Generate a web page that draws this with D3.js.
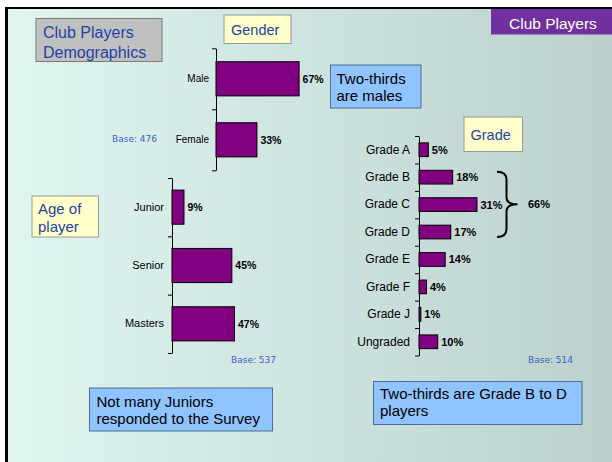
<!DOCTYPE html>
<html>
<head>
<meta charset="utf-8">
<script src="https://cdn.jsdelivr.net/npm/d3@7"></script>
<style>
  body { margin: 0; background: #fff; }
  svg { display: block; }
</style>
</head>
<body>
<svg width="612" height="462"></svg>
<script>
// data
var genderCats = ["Male", "Female"];
var genderVals = [67, 33];
var ageCats = ["Junior", "Senior", "Masters"];
var ageVals = [9, 45, 47];
var gradeCats = ["Grade A", "Grade B", "Grade C", "Grade D", "Grade E", "Grade F", "Grade J", "Ungraded"];
var gradeVals = [5, 18, 31, 17, 14, 4, 1, 10];
var gradeGroup = ["Grade B", "Grade D"];
var gradeGroupLabel = "66%";
var baseLabels = ["Base: 476", "Base: 537", "Base: 514"];

var svg = d3.select("svg");
var sans = "'Liberation Sans', Arial, sans-serif";
var tahoma = "'DejaVu Sans', Verdana, sans-serif";
var blueText = "#2443a4";

// background panel
var defs = svg.append("defs");
var grad = defs.append("linearGradient").attr("id", "bg").attr("x1", "0").attr("x2", "1").attr("y1", "0").attr("y2", "0");
grad.append("stop").attr("offset", "0").attr("stop-color", "#e0f6f1");
grad.append("stop").attr("offset", "1").attr("stop-color", "#bcd1cd");
svg.append("rect").attr("x", 6).attr("y", 8).attr("width", 606).attr("height", 454).attr("fill", "url(#bg)");
svg.append("line").attr("x1", 6.5).attr("x2", 6.5).attr("y1", 7).attr("y2", 462).attr("stroke", "#000").attr("stroke-width", 3);
svg.append("line").attr("x1", 5).attr("x2", 612).attr("y1", 8).attr("y2", 8).attr("stroke", "#000").attr("stroke-width", 2);

function textBox(x, y, w, h, fill, stroke, lines, opt) {
    svg.append("rect").attr("x", x).attr("y", y).attr("width", w).attr("height", h)
        .attr("fill", fill).attr("stroke", stroke).attr("stroke-width", opt.sw || 1);
    lines.forEach(function(t, i) {
        svg.append("text")
            .attr("x", opt.tx)
            .attr("y", opt.ty + i * (opt.lh || 0))
            .style("font-family", opt.font || sans)
            .style("font-size", opt.size + "px")
            .attr("fill", opt.color)
            .text(t);
    });
}

function barChart(cats, vals, o) {
    var y = d3.scaleBand().domain(cats).range(o.yRange).paddingInner(o.pad).paddingOuter(o.pad / 2);
    var x = d3.scaleLinear().domain([0, 100]).range([o.x0, o.x0 + o.len]);
    var g = svg.append("g");
    // boundary ticks + axis line
    var yEdge = d3.scaleLinear().domain([0, cats.length]).range(o.yRange);
    g.append("g").attr("transform", "translate(" + o.x0 + ",0)")
        .call(d3.axisLeft(yEdge).tickValues(d3.range(cats.length + 1)).tickFormat("").tickSize(4).tickSizeOuter(0))
        .call(function(a) { a.selectAll("path,line").attr("stroke", "#000"); });
    // category labels
    g.append("g").attr("transform", "translate(" + o.x0 + ",0)")
        .call(d3.axisLeft(y).tickSize(0).tickPadding(o.labelPad))
        .call(function(a) {
            a.select(".domain").remove();
            a.selectAll("text").style("font-family", sans).style("font-size", o.labelSize + "px").attr("fill", "#000");
        });
    g.selectAll("rect.bar").data(vals).enter().append("rect")
        .attr("class", "bar")
        .attr("x", o.x0)
        .attr("y", function(d, i) { return y(cats[i]); })
        .attr("width", function(d) { return x(d) - o.x0; })
        .attr("height", y.bandwidth())
        .attr("fill", "#800080")
        .attr("stroke", "#000")
        .attr("stroke-width", 1);
    g.selectAll("text.val").data(vals).enter().append("text")
        .attr("class", "val")
        .attr("x", function(d) { return x(d) + 3.5; })
        .attr("y", function(d, i) { return y(cats[i]) + y.bandwidth() / 2; })
        .attr("dy", "0.36em")
        .style("font-family", sans)
        .style("font-size", o.valSize + "px")
        .style("font-weight", "bold")
        .attr("fill", "#000")
        .text(function(d) { return d + "%"; });
    return { y: y, x: x };
}

// title and tags
textBox(36, 18.5, 126, 43, "#c0c0c0", "#7a7a7a", ["Club Players", "Demographics"],
    { tx: 43, ty: 37.5, lh: 20, size: 16, color: blueText });
svg.append("rect").attr("x", 491).attr("y", 9).attr("width", 121).attr("height", 25.5).attr("fill", "#7030a0");
svg.append("text").attr("x", 509).attr("y", 28.5).style("font-family", sans).style("font-size", "15.5px")
    .attr("fill", "#fff").text("Club Players");

// gender
textBox(224, 15, 67, 28.5, "#ffffcc", "#9a9a9a", ["Gender"], { tx: 231, ty: 35, size: 14.5, color: blueText });
barChart(genderCats, genderVals, { x0: 216, len: 124, yRange: [48.3, 170.3], pad: 0.44, labelPad: 7, labelSize: 10, valSize: 10.5 });
textBox(330.5, 65, 90.5, 43, "#8fc4ff", "#4d6f96", ["Two-thirds", "are males"],
    { tx: 336.5, ty: 83.5, lh: 17.3, size: 15, color: "#000" });
svg.append("text").attr("x", 112).attr("y", 141.5).style("font-family", tahoma).style("font-size", "9px")
    .attr("fill", "#3a62c0").text(baseLabels[0]);

// age
textBox(32, 196, 66.5, 41, "#ffffcc", "#9a9a9a", ["Age of", "player"],
    { tx: 38, ty: 213.5, lh: 18, size: 15, color: blueText });
barChart(ageCats, ageVals, { x0: 172, len: 133, yRange: [178, 353], pad: 0.415, labelPad: 8, labelSize: 11, valSize: 10.5 });
svg.append("text").attr("x", 231).attr("y", 362.5).style("font-family", tahoma).style("font-size", "9px")
    .attr("fill", "#3a62c0").text(baseLabels[1]);

// grade
textBox(464, 117, 58.5, 34.5, "#ffffcc", "#9a9a9a", ["Grade"], { tx: 470.5, ty: 140, size: 14.5, color: blueText });
var gs = barChart(gradeCats, gradeVals, { x0: 419, len: 187, yRange: [136, 355.5], pad: 0.5, labelPad: 9, labelSize: 12, valSize: 11 });
svg.append("text").attr("x", 528).attr("y", 362.5).style("font-family", tahoma).style("font-size", "9px")
    .attr("fill", "#3a62c0").text(baseLabels[2]);

// brace around grades B to D
var bTop = gs.y(gradeGroup[0]) + 1.5;
var bBot = gs.y(gradeGroup[1]) + gs.y.bandwidth() - 2;
var bMid = (bTop + bBot) / 2;
var bx = 497, bv = 506.5, tip = 517.5;
var brace = d3.path();
brace.moveTo(bx, bTop);
brace.quadraticCurveTo(bv, bTop, bv, bTop + 8);
brace.lineTo(bv, bMid - 7);
brace.quadraticCurveTo(bv, bMid, tip, bMid);
brace.quadraticCurveTo(bv, bMid, bv, bMid + 7);
brace.lineTo(bv, bBot - 8);
brace.quadraticCurveTo(bv, bBot, bx, bBot);
svg.append("path").attr("d", brace.toString()).attr("fill", "none").attr("stroke", "#000").attr("stroke-width", 2);
svg.append("text").attr("x", 528).attr("y", bMid).attr("dy", "0.36em")
    .style("font-family", sans).style("font-size", "11px").style("font-weight", "bold").text(gradeGroupLabel);

// notes
textBox(89.5, 388, 183, 43, "#8fc4ff", "#4d6f96", ["Not many Juniors", "responded to the Survey"],
    { tx: 96.5, ty: 406.5, lh: 17.5, size: 15, color: "#000" });
textBox(373.5, 381.5, 208.5, 43, "#8fc4ff", "#4d6f96", ["Two-thirds are Grade B to D", "players"],
    { tx: 380, ty: 398.5, lh: 17.5, size: 15, color: "#000" });
</script>
</body>
</html>
